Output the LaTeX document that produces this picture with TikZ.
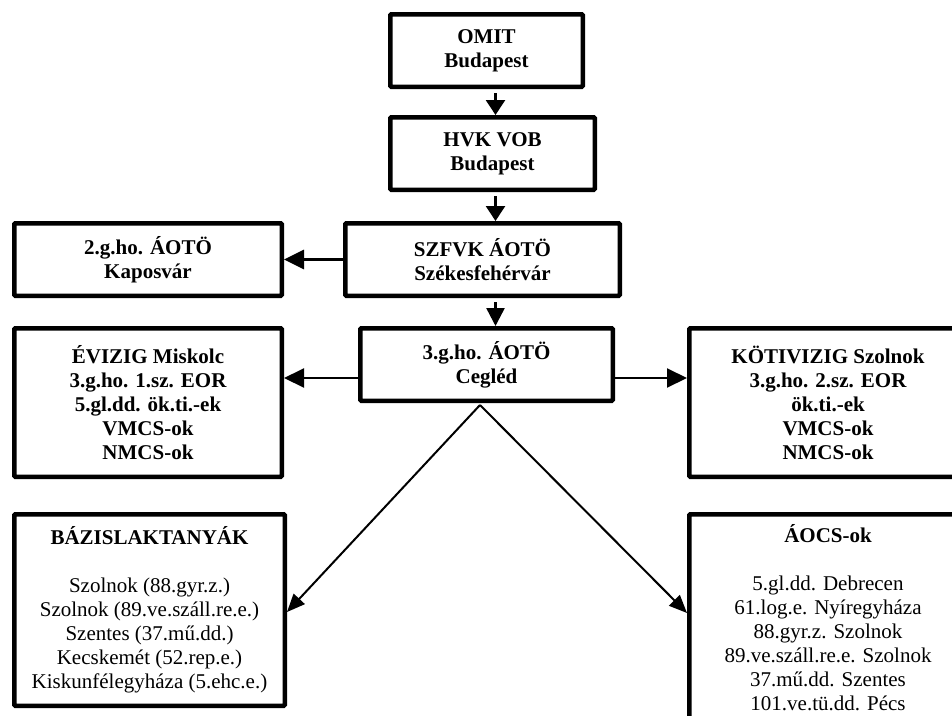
\documentclass[tikz,border=0pt]{standalone}
\usepackage{fontspec}
\setmainfont{Liberation Serif}
\usetikzlibrary{arrows.meta}

\begin{document}
\begin{tikzpicture}[x=1pt,y=-1pt,
 box/.style={draw,line width=4.5pt,rounded corners=1pt,inner sep=0pt,align=center,
  font=\fontsize{21}{24}\selectfont\bfseries},
 vlink/.style={line width=2.5pt,-{Triangle[length=15pt,width=19pt]}},
 hlink/.style={line width=2pt,-{Triangle[length=20pt,width=19pt]}},
 dlink/.style={line width=2pt,-{Triangle[length=18pt,width=15pt]}}]
 \useasboundingbox (0,0) rectangle (952,715);
 % boxes
 \node[box,minimum width=192.5pt,minimum height=72.5pt] (omit) at (486.5,50.5) {OMIT\\Budapest};
 \node[box,minimum width=204.5pt,minimum height=72.5pt] (hvk) at (492.5,153.5) {HVK VOB\\Budapest};
 \node[box,minimum width=267.5pt,minimum height=72.5pt] (kap) at (148,259.5) {2.g.ho. ÁOTÖ\\Kaposvár};
 \node[box,minimum width=274.5pt,minimum height=72.5pt] (szfvk) at (482.5,259.5) {SZFVK ÁOTÖ\\Székesfehérvár};
 \node[box,minimum width=267.5pt,minimum height=148.5pt] (eviz) at (148,402.5)
  {ÉVIZIG Miskolc\\3.g.ho. 1.sz. EOR\\5.gl.dd. ök.ti.-ek\\VMCS-ok\\NMCS-ok};
 \node[box,minimum width=252.5pt,minimum height=72.5pt] (cegled) at (486.5,364.5) {3.g.ho. ÁOTÖ\\Cegléd};
 \node[box,minimum width=277.5pt,minimum height=148.5pt] (koti) at (828,402.5)
  {KÖTIVIZIG Szolnok\\3.g.ho. 2.sz. EOR\\ök.ti.-ek\\VMCS-ok\\NMCS-ok};
 \node[box,minimum width=270.5pt,minimum height=191.5pt] (bazis) at (149.5,610)
  {BÁZISLAKTANYÁK\\[24pt]\mdseries Szolnok (88.gyr.z.)\\\mdseries Szolnok (89.ve.száll.re.e.)\\
   \mdseries Szentes (37.mű.dd.)\\\mdseries Kecskemét (52.rep.e.)\\\mdseries Kiskunfélegyháza (5.ehc.e.)};
 \node[box,minimum width=277.5pt,minimum height=206.5pt] (aocs) at (828,617.5)
  {ÁOCS-ok\\[24pt]\mdseries 5.gl.dd. Debrecen\\\mdseries 61.log.e. Nyíregyháza\\\mdseries 88.gyr.z. Szolnok\\
   \mdseries 89.ve.száll.re.e. Szolnok\\\mdseries 37.mű.dd. Szentes\\\mdseries 101.ve.tü.dd. Pécs};
 % connectors
 \coordinate (spine) at (495.5,0);
 \coordinate (mid) at (0,378);
 \coordinate (apex) at (480,405);
 \draw[vlink,shorten <=4pt] (omit.south -| spine) -- (hvk.north -| spine);
 \draw[vlink,shorten <=4pt] (hvk.south -| spine) -- (szfvk.north -| spine);
 \draw[vlink,shorten <=4pt,-{Triangle[length=18pt,width=18pt]}] (szfvk.south -| spine) -- (cegled.north -| spine);
 \draw[hlink,line width=3pt] (szfvk.west) -- (kap.east);
 \draw[hlink] (cegled.west |- mid) -- (eviz.east |- mid);
 \draw[hlink] (cegled.east |- mid) -- (koti.west |- mid);
 \draw[dlink] (apex) -- ([yshift=-2pt]bazis.east);
 \draw[dlink] (apex) -- ([yshift=4.5pt]aocs.west);
\end{tikzpicture}
\end{document}
